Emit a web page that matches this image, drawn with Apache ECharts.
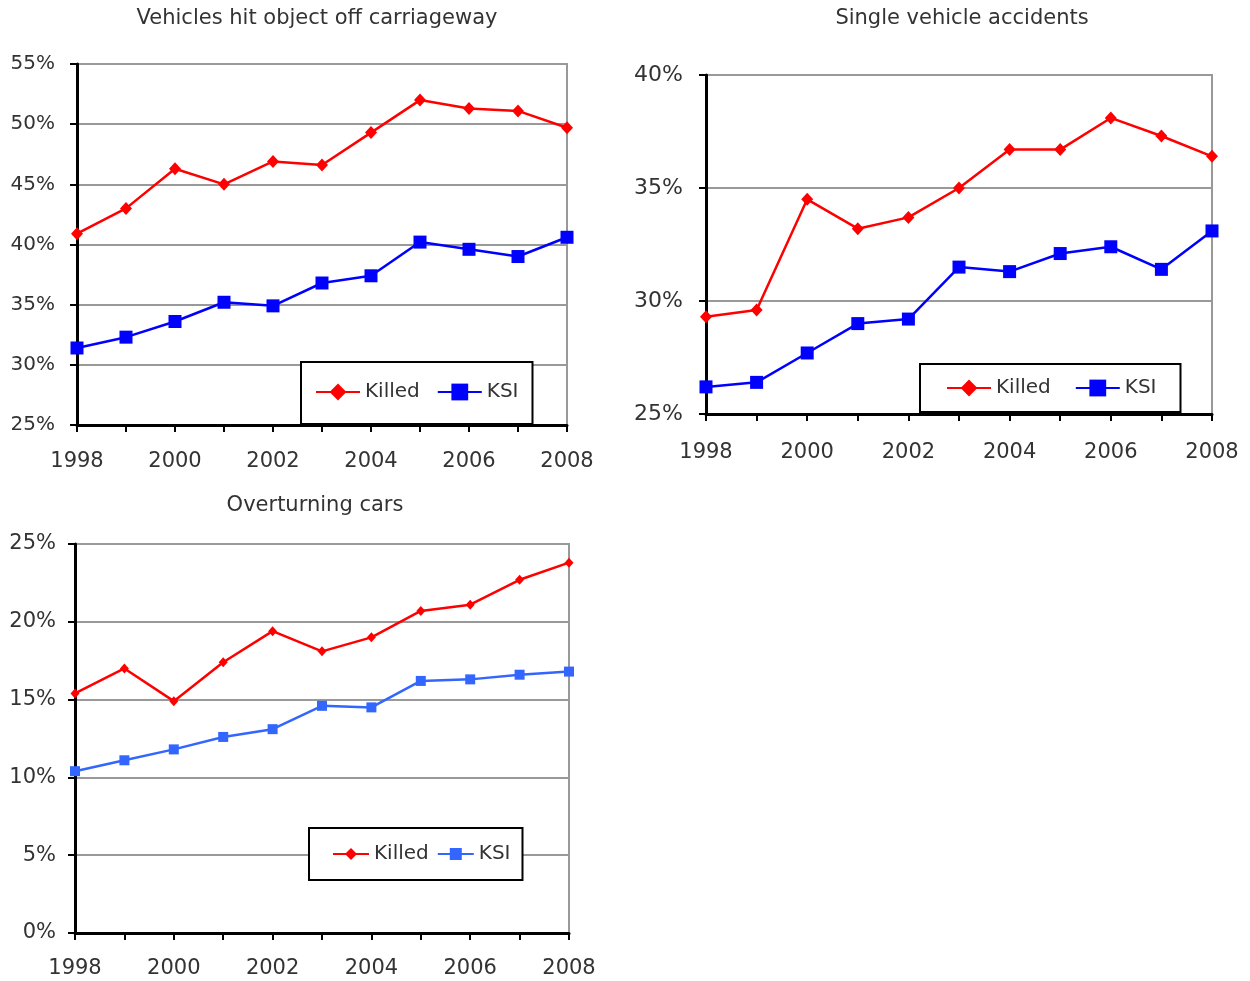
<!DOCTYPE html>
<html>
<head>
<meta charset="utf-8">
<script src="https://cdn.jsdelivr.net/npm/echarts@6/dist/echarts.min.js"></script>
<style>
  html, body { margin: 0; padding: 0; background: #fff; }
  #wrap { position: relative; width: 1250px; height: 981px; }
  .panel { position: absolute; }
</style>
</head>
<body>
<div id="wrap">
  <div id="c1" class="panel" style="left:0;top:0;width:620px;height:490px"></div>
  <div id="c2" class="panel" style="left:620px;top:0;width:630px;height:490px"></div>
  <div id="c3" class="panel" style="left:0;top:490px;width:620px;height:491px"></div>
</div>
<script>
// Years shown on every panel
const years = ['1998', '1999', '2000', '2001', '2002', '2003', '2004', '2005', '2006', '2007', '2008'];

// Vehicles hit object off carriageway (% of accidents)
const hitObjectKilled = [40.9, 43.0, 46.3, 45.0, 46.9, 46.6, 49.3, 52.0, 51.3, 51.1, 49.7];
const hitObjectKSI    = [31.4, 32.3, 33.6, 35.2, 34.9, 36.8, 37.4, 40.2, 39.6, 39.0, 40.6];

// Single vehicle accidents (%)
const singleKilled = [29.3, 29.6, 34.5, 33.2, 33.7, 35.0, 36.7, 36.7, 38.1, 37.3, 36.4];
const singleKSI    = [26.2, 26.4, 27.7, 29.0, 29.2, 31.5, 31.3, 32.1, 32.4, 31.4, 33.1];

// Overturning cars (%)
const overturnKilled = [15.4, 17.0, 14.9, 17.4, 19.4, 18.1, 19.0, 20.7, 21.1, 22.7, 23.8];
const overturnKSI    = [10.4, 11.1, 11.8, 12.6, 13.1, 14.6, 14.5, 16.2, 16.3, 16.6, 16.8];

const FONT = 'DejaVu Sans';
const TEXT = '#333';

function panel(el, cfg) {
  const chart = echarts.init(document.getElementById(el), null, { renderer: 'canvas' });
  chart.setOption({
    animation: false,
    backgroundColor: '#fff',
    graphic: [{
      type: 'text',
      x: cfg.titleX, y: cfg.titleY,
      style: {
        text: cfg.title, fill: TEXT, fontFamily: FONT, fontSize: 21,
        align: 'center', verticalAlign: 'middle'
      }
    }],
    grid: Object.assign({ show: true, borderColor: '#999', borderWidth: 2, backgroundColor: 'transparent' }, cfg.grid),
    xAxis: {
      type: 'category',
      data: years,
      boundaryGap: false,
      axisLine: { lineStyle: { color: '#000', width: 3 } },
      axisTick: { show: true, interval: 0, length: 7, lineStyle: { color: '#000', width: 2 } },
      axisLabel: { interval: 1, margin: cfg.xMargin, color: TEXT, fontFamily: FONT, fontSize: cfg.xFont },
      splitLine: { show: false }
    },
    yAxis: {
      type: 'value',
      min: cfg.yMin, max: cfg.yMax, interval: 5,
      axisLine: { show: true, lineStyle: { color: '#000', width: 3 } },
      axisTick: { show: true, length: 7, lineStyle: { color: '#000', width: 2 } },
      axisLabel: { formatter: '{value}%', margin: cfg.yMargin, color: TEXT, fontFamily: FONT, fontSize: cfg.yFont },
      splitLine: { show: true, lineStyle: { color: '#999', width: 2 } }
    },
    legend: Object.assign({
      data: ['Killed', 'KSI'],
      orient: 'horizontal',
      borderColor: '#000', borderWidth: 2, backgroundColor: '#fff',
      selectedMode: false,
      textStyle: { color: TEXT, fontFamily: FONT, fontSize: 20 }
    }, cfg.legend),
    series: [
      {
        name: 'Killed', type: 'line', data: cfg.killed,
        symbol: 'diamond', symbolSize: cfg.diamond,
        lineStyle: { color: '#ff0000', width: 2.5 },
        itemStyle: { color: '#ff0000' }
      },
      {
        name: 'KSI', type: 'line', data: cfg.ksi,
        symbol: 'rect', symbolSize: cfg.square,
        lineStyle: { color: cfg.ksiColor, width: 2.5 },
        itemStyle: { color: cfg.ksiColor }
      }
    ]
  });
}

panel('c1', {
  title: 'Vehicles hit object off carriageway', titleX: 317, titleY: 19,
  grid: { left: 77, top: 64, width: 490, height: 361 },
  yMin: 25, yMax: 55, yMargin: 22, xMargin: 26, yFont: 20, xFont: 21,
  killed: hitObjectKilled, ksi: hitObjectKSI, ksiColor: '#0000ff',
  diamond: [12, 13], square: 13,
  legend: { left: 301, top: 362, padding: [20, 14, 22, 14], itemGap: 17, itemWidth: 44, itemHeight: 21 }
});

panel('c2', {
  title: 'Single vehicle accidents', titleX: 342, titleY: 19,
  grid: { left: 86, top: 75, width: 506, height: 339 },
  yMin: 25, yMax: 40, yMargin: 23, xMargin: 28, yFont: 22, xFont: 21,
  killed: singleKilled, ksi: singleKSI, ksiColor: '#0000ff',
  diamond: [12, 13], square: 13,
  legend: { left: 300, top: 364, padding: [14, 24, 14, 26], itemGap: 24, itemWidth: 44, itemHeight: 21 }
});

panel('c3', {
  title: 'Overturning cars', titleX: 315, titleY: 16,
  grid: { left: 75, top: 54, width: 494, height: 389 },
  yMin: 0, yMax: 25, yMargin: 19, xMargin: 25, yFont: 21, xFont: 21,
  killed: overturnKilled, ksi: overturnKSI, ksiColor: '#3366ff',
  diamond: [9, 10], square: 10,
  legend: { left: 309, top: 338, padding: [16, 12, 16, 23], itemGap: 8, itemWidth: 36, itemHeight: 15 }
});
</script>
</body>
</html>
